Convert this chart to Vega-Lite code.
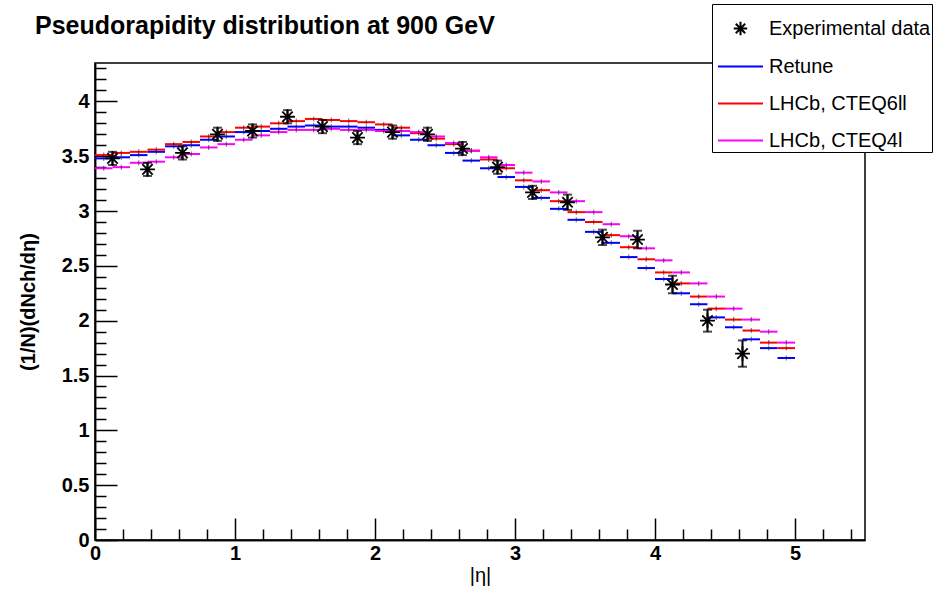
{
  "$schema": "https://vega.github.io/schema/vega-lite/v6.json",
  "width": 770,
  "height": 477,
  "autosize": {"type": "none"},
  "padding": {"left": 95, "top": 63, "right": 81, "bottom": 49},
  "background": "white",
  "config": {
    "view": {"stroke": "black", "strokeWidth": 1.5},
    "font": "Liberation Sans"
  },
  "title": {
    "text": "Pseudorapidity distribution at 900 GeV",
    "anchor": "start",
    "frame": "group",
    "dx": -60,
    "offset": -35,
    "font": "Liberation Sans",
    "fontSize": 25,
    "fontWeight": "bold",
    "color": "black"
  },
  "resolve": {"axis": {"x": "independent", "y": "independent"}},
  "datasets": {
    "mc": [
      {"series": "Retune", "lo": 0, "hi": 0.125, "eta": 0.0625, "value": 3.48},
      {"series": "Retune", "lo": 0.125, "hi": 0.25, "eta": 0.1875, "value": 3.49},
      {"series": "Retune", "lo": 0.25, "hi": 0.375, "eta": 0.3125, "value": 3.51},
      {"series": "Retune", "lo": 0.375, "hi": 0.5, "eta": 0.4375, "value": 3.54},
      {"series": "Retune", "lo": 0.5, "hi": 0.625, "eta": 0.5625, "value": 3.59},
      {"series": "Retune", "lo": 0.625, "hi": 0.75, "eta": 0.6875, "value": 3.6},
      {"series": "Retune", "lo": 0.75, "hi": 0.875, "eta": 0.8125, "value": 3.65},
      {"series": "Retune", "lo": 0.875, "hi": 1.0, "eta": 0.9375, "value": 3.68},
      {"series": "Retune", "lo": 1.0, "hi": 1.125, "eta": 1.0625, "value": 3.72},
      {"series": "Retune", "lo": 1.125, "hi": 1.25, "eta": 1.1875, "value": 3.73},
      {"series": "Retune", "lo": 1.25, "hi": 1.375, "eta": 1.3125, "value": 3.75},
      {"series": "Retune", "lo": 1.375, "hi": 1.5, "eta": 1.4375, "value": 3.77},
      {"series": "Retune", "lo": 1.5, "hi": 1.625, "eta": 1.5625, "value": 3.78},
      {"series": "Retune", "lo": 1.625, "hi": 1.75, "eta": 1.6875, "value": 3.77},
      {"series": "Retune", "lo": 1.75, "hi": 1.875, "eta": 1.8125, "value": 3.77},
      {"series": "Retune", "lo": 1.875, "hi": 2.0, "eta": 1.9375, "value": 3.76},
      {"series": "Retune", "lo": 2.0, "hi": 2.125, "eta": 2.0625, "value": 3.74},
      {"series": "Retune", "lo": 2.125, "hi": 2.25, "eta": 2.1875, "value": 3.69},
      {"series": "Retune", "lo": 2.25, "hi": 2.375, "eta": 2.3125, "value": 3.65},
      {"series": "Retune", "lo": 2.375, "hi": 2.5, "eta": 2.4375, "value": 3.6},
      {"series": "Retune", "lo": 2.5, "hi": 2.625, "eta": 2.5625, "value": 3.53},
      {"series": "Retune", "lo": 2.625, "hi": 2.75, "eta": 2.6875, "value": 3.46},
      {"series": "Retune", "lo": 2.75, "hi": 2.875, "eta": 2.8125, "value": 3.39},
      {"series": "Retune", "lo": 2.875, "hi": 3.0, "eta": 2.9375, "value": 3.31},
      {"series": "Retune", "lo": 3.0, "hi": 3.125, "eta": 3.0625, "value": 3.22},
      {"series": "Retune", "lo": 3.125, "hi": 3.25, "eta": 3.1875, "value": 3.12},
      {"series": "Retune", "lo": 3.25, "hi": 3.375, "eta": 3.3125, "value": 3.02},
      {"series": "Retune", "lo": 3.375, "hi": 3.5, "eta": 3.4375, "value": 2.92},
      {"series": "Retune", "lo": 3.5, "hi": 3.625, "eta": 3.5625, "value": 2.81},
      {"series": "Retune", "lo": 3.625, "hi": 3.75, "eta": 3.6875, "value": 2.71},
      {"series": "Retune", "lo": 3.75, "hi": 3.875, "eta": 3.8125, "value": 2.58},
      {"series": "Retune", "lo": 3.875, "hi": 4.0, "eta": 3.9375, "value": 2.48},
      {"series": "Retune", "lo": 4.0, "hi": 4.125, "eta": 4.0625, "value": 2.38},
      {"series": "Retune", "lo": 4.125, "hi": 4.25, "eta": 4.1875, "value": 2.25},
      {"series": "Retune", "lo": 4.25, "hi": 4.375, "eta": 4.3125, "value": 2.15},
      {"series": "Retune", "lo": 4.375, "hi": 4.5, "eta": 4.4375, "value": 2.03},
      {"series": "Retune", "lo": 4.5, "hi": 4.625, "eta": 4.5625, "value": 1.94},
      {"series": "Retune", "lo": 4.625, "hi": 4.75, "eta": 4.6875, "value": 1.83},
      {"series": "Retune", "lo": 4.75, "hi": 4.875, "eta": 4.8125, "value": 1.75},
      {"series": "Retune", "lo": 4.875, "hi": 5.0, "eta": 4.9375, "value": 1.66},
      {"series": "LHCb, CTEQ6ll", "lo": 0, "hi": 0.125, "eta": 0.0625, "value": 3.51},
      {"series": "LHCb, CTEQ6ll", "lo": 0.125, "hi": 0.25, "eta": 0.1875, "value": 3.53},
      {"series": "LHCb, CTEQ6ll", "lo": 0.25, "hi": 0.375, "eta": 0.3125, "value": 3.54},
      {"series": "LHCb, CTEQ6ll", "lo": 0.375, "hi": 0.5, "eta": 0.4375, "value": 3.56},
      {"series": "LHCb, CTEQ6ll", "lo": 0.5, "hi": 0.625, "eta": 0.5625, "value": 3.61},
      {"series": "LHCb, CTEQ6ll", "lo": 0.625, "hi": 0.75, "eta": 0.6875, "value": 3.63},
      {"series": "LHCb, CTEQ6ll", "lo": 0.75, "hi": 0.875, "eta": 0.8125, "value": 3.68},
      {"series": "LHCb, CTEQ6ll", "lo": 0.875, "hi": 1.0, "eta": 0.9375, "value": 3.72},
      {"series": "LHCb, CTEQ6ll", "lo": 1.0, "hi": 1.125, "eta": 1.0625, "value": 3.76},
      {"series": "LHCb, CTEQ6ll", "lo": 1.125, "hi": 1.25, "eta": 1.1875, "value": 3.77},
      {"series": "LHCb, CTEQ6ll", "lo": 1.25, "hi": 1.375, "eta": 1.3125, "value": 3.8},
      {"series": "LHCb, CTEQ6ll", "lo": 1.375, "hi": 1.5, "eta": 1.4375, "value": 3.82},
      {"series": "LHCb, CTEQ6ll", "lo": 1.5, "hi": 1.625, "eta": 1.5625, "value": 3.84},
      {"series": "LHCb, CTEQ6ll", "lo": 1.625, "hi": 1.75, "eta": 1.6875, "value": 3.83},
      {"series": "LHCb, CTEQ6ll", "lo": 1.75, "hi": 1.875, "eta": 1.8125, "value": 3.82},
      {"series": "LHCb, CTEQ6ll", "lo": 1.875, "hi": 2.0, "eta": 1.9375, "value": 3.81},
      {"series": "LHCb, CTEQ6ll", "lo": 2.0, "hi": 2.125, "eta": 2.0625, "value": 3.79},
      {"series": "LHCb, CTEQ6ll", "lo": 2.125, "hi": 2.25, "eta": 2.1875, "value": 3.76},
      {"series": "LHCb, CTEQ6ll", "lo": 2.25, "hi": 2.375, "eta": 2.3125, "value": 3.71},
      {"series": "LHCb, CTEQ6ll", "lo": 2.375, "hi": 2.5, "eta": 2.4375, "value": 3.66},
      {"series": "LHCb, CTEQ6ll", "lo": 2.5, "hi": 2.625, "eta": 2.5625, "value": 3.61},
      {"series": "LHCb, CTEQ6ll", "lo": 2.625, "hi": 2.75, "eta": 2.6875, "value": 3.55},
      {"series": "LHCb, CTEQ6ll", "lo": 2.75, "hi": 2.875, "eta": 2.8125, "value": 3.47},
      {"series": "LHCb, CTEQ6ll", "lo": 2.875, "hi": 3.0, "eta": 2.9375, "value": 3.39},
      {"series": "LHCb, CTEQ6ll", "lo": 3.0, "hi": 3.125, "eta": 3.0625, "value": 3.28},
      {"series": "LHCb, CTEQ6ll", "lo": 3.125, "hi": 3.25, "eta": 3.1875, "value": 3.19},
      {"series": "LHCb, CTEQ6ll", "lo": 3.25, "hi": 3.375, "eta": 3.3125, "value": 3.09},
      {"series": "LHCb, CTEQ6ll", "lo": 3.375, "hi": 3.5, "eta": 3.4375, "value": 2.99},
      {"series": "LHCb, CTEQ6ll", "lo": 3.5, "hi": 3.625, "eta": 3.5625, "value": 2.9},
      {"series": "LHCb, CTEQ6ll", "lo": 3.625, "hi": 3.75, "eta": 3.6875, "value": 2.78},
      {"series": "LHCb, CTEQ6ll", "lo": 3.75, "hi": 3.875, "eta": 3.8125, "value": 2.67},
      {"series": "LHCb, CTEQ6ll", "lo": 3.875, "hi": 4.0, "eta": 3.9375, "value": 2.56},
      {"series": "LHCb, CTEQ6ll", "lo": 4.0, "hi": 4.125, "eta": 4.0625, "value": 2.44},
      {"series": "LHCb, CTEQ6ll", "lo": 4.125, "hi": 4.25, "eta": 4.1875, "value": 2.34},
      {"series": "LHCb, CTEQ6ll", "lo": 4.25, "hi": 4.375, "eta": 4.3125, "value": 2.22},
      {"series": "LHCb, CTEQ6ll", "lo": 4.375, "hi": 4.5, "eta": 4.4375, "value": 2.11},
      {"series": "LHCb, CTEQ6ll", "lo": 4.5, "hi": 4.625, "eta": 4.5625, "value": 2.01},
      {"series": "LHCb, CTEQ6ll", "lo": 4.625, "hi": 4.75, "eta": 4.6875, "value": 1.91},
      {"series": "LHCb, CTEQ6ll", "lo": 4.75, "hi": 4.875, "eta": 4.8125, "value": 1.8},
      {"series": "LHCb, CTEQ6ll", "lo": 4.875, "hi": 5.0, "eta": 4.9375, "value": 1.75},
      {"series": "LHCb, CTEQ4l", "lo": 0, "hi": 0.125, "eta": 0.0625, "value": 3.39},
      {"series": "LHCb, CTEQ4l", "lo": 0.125, "hi": 0.25, "eta": 0.1875, "value": 3.4},
      {"series": "LHCb, CTEQ4l", "lo": 0.25, "hi": 0.375, "eta": 0.3125, "value": 3.44},
      {"series": "LHCb, CTEQ4l", "lo": 0.375, "hi": 0.5, "eta": 0.4375, "value": 3.45},
      {"series": "LHCb, CTEQ4l", "lo": 0.5, "hi": 0.625, "eta": 0.5625, "value": 3.49},
      {"series": "LHCb, CTEQ4l", "lo": 0.625, "hi": 0.75, "eta": 0.6875, "value": 3.52},
      {"series": "LHCb, CTEQ4l", "lo": 0.75, "hi": 0.875, "eta": 0.8125, "value": 3.58},
      {"series": "LHCb, CTEQ4l", "lo": 0.875, "hi": 1.0, "eta": 0.9375, "value": 3.61},
      {"series": "LHCb, CTEQ4l", "lo": 1.0, "hi": 1.125, "eta": 1.0625, "value": 3.65},
      {"series": "LHCb, CTEQ4l", "lo": 1.125, "hi": 1.25, "eta": 1.1875, "value": 3.69},
      {"series": "LHCb, CTEQ4l", "lo": 1.25, "hi": 1.375, "eta": 1.3125, "value": 3.72},
      {"series": "LHCb, CTEQ4l", "lo": 1.375, "hi": 1.5, "eta": 1.4375, "value": 3.74},
      {"series": "LHCb, CTEQ4l", "lo": 1.5, "hi": 1.625, "eta": 1.5625, "value": 3.74},
      {"series": "LHCb, CTEQ4l", "lo": 1.625, "hi": 1.75, "eta": 1.6875, "value": 3.75},
      {"series": "LHCb, CTEQ4l", "lo": 1.75, "hi": 1.875, "eta": 1.8125, "value": 3.74},
      {"series": "LHCb, CTEQ4l", "lo": 1.875, "hi": 2.0, "eta": 1.9375, "value": 3.74},
      {"series": "LHCb, CTEQ4l", "lo": 2.0, "hi": 2.125, "eta": 2.0625, "value": 3.73},
      {"series": "LHCb, CTEQ4l", "lo": 2.125, "hi": 2.25, "eta": 2.1875, "value": 3.73},
      {"series": "LHCb, CTEQ4l", "lo": 2.25, "hi": 2.375, "eta": 2.3125, "value": 3.72},
      {"series": "LHCb, CTEQ4l", "lo": 2.375, "hi": 2.5, "eta": 2.4375, "value": 3.68},
      {"series": "LHCb, CTEQ4l", "lo": 2.5, "hi": 2.625, "eta": 2.5625, "value": 3.62},
      {"series": "LHCb, CTEQ4l", "lo": 2.625, "hi": 2.75, "eta": 2.6875, "value": 3.55},
      {"series": "LHCb, CTEQ4l", "lo": 2.75, "hi": 2.875, "eta": 2.8125, "value": 3.49},
      {"series": "LHCb, CTEQ4l", "lo": 2.875, "hi": 3.0, "eta": 2.9375, "value": 3.42},
      {"series": "LHCb, CTEQ4l", "lo": 3.0, "hi": 3.125, "eta": 3.0625, "value": 3.35},
      {"series": "LHCb, CTEQ4l", "lo": 3.125, "hi": 3.25, "eta": 3.1875, "value": 3.27},
      {"series": "LHCb, CTEQ4l", "lo": 3.25, "hi": 3.375, "eta": 3.3125, "value": 3.17},
      {"series": "LHCb, CTEQ4l", "lo": 3.375, "hi": 3.5, "eta": 3.4375, "value": 3.09},
      {"series": "LHCb, CTEQ4l", "lo": 3.5, "hi": 3.625, "eta": 3.5625, "value": 2.99},
      {"series": "LHCb, CTEQ4l", "lo": 3.625, "hi": 3.75, "eta": 3.6875, "value": 2.88},
      {"series": "LHCb, CTEQ4l", "lo": 3.75, "hi": 3.875, "eta": 3.8125, "value": 2.77},
      {"series": "LHCb, CTEQ4l", "lo": 3.875, "hi": 4.0, "eta": 3.9375, "value": 2.66},
      {"series": "LHCb, CTEQ4l", "lo": 4.0, "hi": 4.125, "eta": 4.0625, "value": 2.55},
      {"series": "LHCb, CTEQ4l", "lo": 4.125, "hi": 4.25, "eta": 4.1875, "value": 2.44},
      {"series": "LHCb, CTEQ4l", "lo": 4.25, "hi": 4.375, "eta": 4.3125, "value": 2.34},
      {"series": "LHCb, CTEQ4l", "lo": 4.375, "hi": 4.5, "eta": 4.4375, "value": 2.22},
      {"series": "LHCb, CTEQ4l", "lo": 4.5, "hi": 4.625, "eta": 4.5625, "value": 2.11},
      {"series": "LHCb, CTEQ4l", "lo": 4.625, "hi": 4.75, "eta": 4.6875, "value": 2.01},
      {"series": "LHCb, CTEQ4l", "lo": 4.75, "hi": 4.875, "eta": 4.8125, "value": 1.9},
      {"series": "LHCb, CTEQ4l", "lo": 4.875, "hi": 5.0, "eta": 4.9375, "value": 1.8}
    ],
    "exp": [
      {"series": "Experimental data", "eta": 0.125, "value": 3.48, "lo": 3.42, "hi": 3.54},
      {"series": "Experimental data", "eta": 0.375, "value": 3.38, "lo": 3.32, "hi": 3.44},
      {"series": "Experimental data", "eta": 0.625, "value": 3.53, "lo": 3.47, "hi": 3.59},
      {"series": "Experimental data", "eta": 0.875, "value": 3.7, "lo": 3.64, "hi": 3.76},
      {"series": "Experimental data", "eta": 1.125, "value": 3.73, "lo": 3.67, "hi": 3.79},
      {"series": "Experimental data", "eta": 1.375, "value": 3.86, "lo": 3.8, "hi": 3.92},
      {"series": "Experimental data", "eta": 1.625, "value": 3.77, "lo": 3.71, "hi": 3.83},
      {"series": "Experimental data", "eta": 1.875, "value": 3.67, "lo": 3.61, "hi": 3.73},
      {"series": "Experimental data", "eta": 2.125, "value": 3.72, "lo": 3.66, "hi": 3.78},
      {"series": "Experimental data", "eta": 2.375, "value": 3.7, "lo": 3.64, "hi": 3.76},
      {"series": "Experimental data", "eta": 2.625, "value": 3.57, "lo": 3.51, "hi": 3.63},
      {"series": "Experimental data", "eta": 2.875, "value": 3.4, "lo": 3.34, "hi": 3.46},
      {"series": "Experimental data", "eta": 3.125, "value": 3.17, "lo": 3.11, "hi": 3.23},
      {"series": "Experimental data", "eta": 3.375, "value": 3.08, "lo": 3.01, "hi": 3.15},
      {"series": "Experimental data", "eta": 3.625, "value": 2.76, "lo": 2.69, "hi": 2.83},
      {"series": "Experimental data", "eta": 3.875, "value": 2.74, "lo": 2.66, "hi": 2.82},
      {"series": "Experimental data", "eta": 4.125, "value": 2.33, "lo": 2.25, "hi": 2.41},
      {"series": "Experimental data", "eta": 4.375, "value": 2.0, "lo": 1.9, "hi": 2.1},
      {"series": "Experimental data", "eta": 4.625, "value": 1.7, "lo": 1.58, "hi": 1.82}
    ]
  },
  "layer": [
    {
      "data": {"name": "mc"},
      "mark": {"type": "rule", "strokeWidth": 2},
      "encoding": {
        "x": {
          "field": "lo", "type": "quantitative",
          "scale": {"domain": [0, 5.5], "nice": false, "zero": false},
          "axis": {
            "orient": "bottom",
            "title": "|η|",
            "titleFont": "Liberation Sans", "titleFontSize": 20, "titleFontWeight": "normal", "titleColor": "black",
            "titlePadding": 2,
            "values": [0, 1, 2, 3, 4, 5],
            "format": "d",
            "labelFont": "Liberation Sans", "labelFontSize": 20, "labelFontWeight": "bold", "labelColor": "black",
            "labelFlush": false, "labelOverlap": false,
            "tickSize": -22,
            "labelPadding": 25,
            "tickColor": "black", "tickWidth": 1.5,
            "domainColor": "black", "domainWidth": 1.5,
            "grid": false
          }
        },
        "x2": {"field": "hi"},
        "y": {
          "field": "value", "type": "quantitative",
          "scale": {"domain": [0, 4.35], "nice": false},
          "axis": {
            "orient": "left",
            "title": "(1/N)(dNch/dη)",
            "titleFont": "Liberation Sans", "titleFontSize": 20, "titleFontWeight": "bold", "titleColor": "black",
            "titlePadding": 23,
            "values": [0, 0.5, 1, 1.5, 2, 2.5, 3, 3.5, 4],
            "format": "~g",
            "labelFont": "Liberation Sans", "labelFontSize": 20, "labelFontWeight": "bold", "labelColor": "black",
            "labelFlush": false, "labelOverlap": false,
            "tickSize": -22,
            "labelPadding": 28,
            "tickColor": "black", "tickWidth": 1.5,
            "domainColor": "black", "domainWidth": 1.5,
            "grid": false
          }
        },
        "color": {
          "field": "series", "type": "nominal",
          "scale": {
            "domain": ["Experimental data", "Retune", "LHCb, CTEQ6ll", "LHCb, CTEQ4l"],
            "range": ["black", "#0000ff", "#ff0000", "#ff00ff"]
          },
          "legend": {
            "orient": "none", "legendX": 617, "legendY": -59,
            "title": null,
            "labelFont": "Liberation Sans", "labelFontSize": 20, "labelColor": "black", "labelLimit": 400,
            "labelOffset": 5,
            "symbolSize": 2025, "symbolStrokeWidth": 2, "symbolType": "stroke",
            "symbolOffset": 4,
            "rowPadding": 3, "padding": 1,
            "strokeColor": "black", "fillColor": "white",
            "encode": {
              "symbols": {
                "update": {
                  "shape": {"signal": "datum.value === 'Experimental data' ? 'M-1,0L1,0M0,-1L0,1M-0.7,-0.7L0.7,0.7M-0.7,0.7L0.7,-0.7' : 'M-1,0L1,0'"},
                  "size": {"signal": "datum.value === 'Experimental data' ? 180 : 2025"},
                  "fill": {"value": "transparent"},
                  "strokeWidth": {"value": 2}
                }
              }
            }
          }
        }
      }
    },
    {
      "data": {"name": "mc"},
      "mark": {"type": "tick", "orient": "vertical", "size": 5, "thickness": 1, "color": "#222222"},
      "encoding": {
        "x": {
          "field": "eta", "type": "quantitative",
          "axis": {
            "orient": "bottom", "title": null, "labels": false, "ticks": true, "domain": true, "grid": false,
            "domainColor": "black", "domainWidth": 1.5,
            "values": [0.2, 0.4, 0.6, 0.8, 1.2, 1.4, 1.6, 1.8, 2.2, 2.4, 2.6, 2.8, 3.2, 3.4, 3.6, 3.8, 4.2, 4.4, 4.6, 4.8, 5.2, 5.4],
            "tickSize": -11, "tickColor": "black", "tickWidth": 1.5
          }
        },
        "y": {
          "field": "value", "type": "quantitative",
          "axis": {
            "orient": "left", "title": null, "labels": false, "ticks": true, "domain": true, "grid": false,
            "domainColor": "black", "domainWidth": 1.5,
            "values": [0.1, 0.2, 0.3, 0.4, 0.6, 0.7, 0.8, 0.9, 1.1, 1.2, 1.3, 1.4, 1.6, 1.7, 1.8, 1.9, 2.1, 2.2, 2.3, 2.4, 2.6, 2.7, 2.8, 2.9, 3.1, 3.2, 3.3, 3.4, 3.6, 3.7, 3.8, 3.9, 4.1, 4.2, 4.3],
            "tickSize": -11, "tickColor": "black", "tickWidth": 1.5
          }
        }
      }
    },
    {
      "data": {"name": "exp"},
      "mark": {"type": "rule", "color": "black", "strokeWidth": 2},
      "encoding": {
        "x": {"field": "eta", "type": "quantitative", "axis": null},
        "y": {"field": "lo", "type": "quantitative", "axis": null},
        "y2": {"field": "hi"}
      }
    },
    {
      "data": {"name": "exp"},
      "mark": {"type": "tick", "orient": "horizontal", "size": 9, "thickness": 2, "color": "black"},
      "encoding": {
        "x": {"field": "eta", "type": "quantitative", "axis": null},
        "y": {"field": "lo", "type": "quantitative", "axis": null}
      }
    },
    {
      "data": {"name": "exp"},
      "mark": {"type": "tick", "orient": "horizontal", "size": 9, "thickness": 2, "color": "black"},
      "encoding": {
        "x": {"field": "eta", "type": "quantitative", "axis": null},
        "y": {"field": "hi", "type": "quantitative", "axis": null}
      }
    },
    {
      "data": {"name": "exp"},
      "mark": {
        "type": "point",
        "shape": "M-1,0L1,0M0,-1L0,1M-0.7,-0.7L0.7,0.7M-0.7,0.7L0.7,-0.7",
        "filled": false, "size": 220, "strokeWidth": 1.8, "opacity": 1
      },
      "encoding": {
        "x": {"field": "eta", "type": "quantitative", "axis": null},
        "y": {"field": "value", "type": "quantitative", "axis": null},
        "color": {"field": "series", "type": "nominal"}
      }
    }
  ]
}
